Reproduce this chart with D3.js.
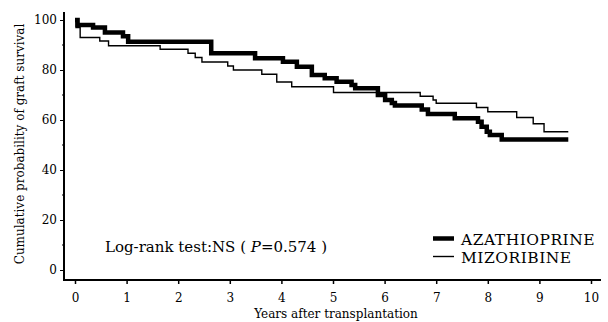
<!DOCTYPE html>
<html>
<head>
<meta charset="utf-8">
<script src="https://cdn.jsdelivr.net/npm/d3@7"></script>
<style>
  body { margin: 0; background: #fff; }
  text { font-family: "DejaVu Serif", "Liberation Serif", serif; fill: #000; }
</style>
</head>
<body>
<svg id="chart" width="608" height="322"></svg>
<script>
// step points: [years, survival %]
var azaTimes = [0, 0.05, 0.35, 0.58, 0.93, 1.03, 2.64, 3.49, 4.03, 4.30, 4.59, 4.84, 5.07, 5.36, 5.43, 5.87, 6.01, 6.14, 6.20, 6.72, 6.84, 7.36, 7.81, 7.88, 7.98, 8.04, 8.27, 9.56];
var azaSurv  = [100, 98, 97, 95, 93.5, 91.3, 86.7, 84.7, 83.3, 81.3, 78, 76.7, 75.3, 74, 72.7, 70, 68, 66.8, 65.8, 64.2, 62.4, 60.7, 59.3, 57.3, 55.3, 54, 52.2, 52.2];
var mizTimes = [0, 0.02, 0.10, 0.48, 0.65, 1.65, 2.19, 2.33, 2.46, 2.96, 3.07, 3.62, 3.91, 4.20, 5.01, 6.69, 6.94, 7.00, 7.78, 8.00, 8.56, 8.88, 9.09, 9.56];
var mizSurv  = [100, 97, 93, 91.6, 89.7, 88.3, 86.7, 85, 83.2, 81.6, 80, 78.3, 75.2, 73.3, 71, 69.5, 68, 66.7, 65, 63.3, 61, 58.5, 55.3, 55.3];
var xTicks = [0, 1, 2, 3, 4, 5, 6, 7, 8, 9, 10];
var yTicks = [0, 20, 40, 60, 80, 100];
var yMinor = [10, 30, 50, 70, 90];
var seriesNames = ["AZATHIOPRINE", "MIZORIBINE"];

var svg = d3.select('#chart');
var x = d3.scaleLinear().domain([0, 10]).range([75, 591]);
var y = d3.scaleLinear().domain([0, 100]).range([270, 20]);

var line = d3.line()
  .x(function(d) { return x(d[0]); })
  .y(function(d) { return y(d[1]); })
  .curve(d3.curveStepAfter);

var aza = d3.zip(azaTimes, azaSurv);
var miz = d3.zip(mizTimes, mizSurv);

// axis frame
var axisG = svg.append('g');
axisG.append('line').attr('x1', 64).attr('x2', 64).attr('y1', 12).attr('y2', 280)
  .attr('stroke', '#000').attr('stroke-width', 2);
axisG.append('line').attr('x1', 63).attr('x2', 601).attr('y1', 280).attr('y2', 280)
  .attr('stroke', '#000').attr('stroke-width', 2);

var yAxis = d3.axisLeft(y).tickValues(yTicks).tickSize(4).tickPadding(3);
var yg = svg.append('g').attr('transform', 'translate(64,0)').call(yAxis);
yg.select('.domain').remove();
yg.selectAll('text').style('font-size', '12px').style('font-family', '"DejaVu Serif", serif');
svg.append('g').selectAll('line').data(yMinor).enter().append('line')
  .attr('x1', 62).attr('x2', 64)
  .attr('y1', function(d) { return y(d); }).attr('y2', function(d) { return y(d); })
  .attr('stroke', '#000');

var xAxis = d3.axisBottom(x).tickValues(xTicks).tickSize(4).tickPadding(9);
var xg = svg.append('g').attr('transform', 'translate(0,280)').call(xAxis);
xg.select('.domain').remove();
xg.selectAll('line').attr('stroke-width', 1.5);
xg.selectAll('text').style('font-size', '12px').style('font-family', '"DejaVu Serif", serif');

svg.append('path').datum(miz).attr('d', line)
  .attr('fill', 'none').attr('stroke', '#000').attr('stroke-width', 1.4);
svg.append('path').datum(aza).attr('d', line)
  .attr('fill', 'none').attr('stroke', '#000').attr('stroke-width', 4.5);

// titles
svg.append('text').attr('x', 336).attr('y', 318).attr('text-anchor', 'middle')
  .style('font-size', '12px').text('Years after transplantation');
svg.append('text').attr('transform', 'translate(24,144) rotate(-90)').attr('text-anchor', 'middle')
  .style('font-size', '12px').text('Cumulative probability of graft survival');

var lr = svg.append('text').attr('x', 105).attr('y', 252).style('font-size', '15px');
lr.append('tspan').text('Log-rank test:NS ( ');
lr.append('tspan').style('font-style', 'italic').text('P');
lr.append('tspan').text('=0.574 )');

// legend
var leg = svg.append('g').selectAll('g').data(seriesNames).enter().append('g')
  .attr('transform', function(d, i) { return 'translate(433,' + (238.5 + i * 18) + ')'; });
leg.append('line').attr('x1', 0).attr('x2', 21).attr('y1', 0).attr('y2', 0)
  .attr('stroke', '#000').attr('stroke-width', function(d, i) { return i === 0 ? 4.5 : 1.4; });
leg.append('text').attr('x', 28).attr('y', 6).style('font-size', '15.5px')
  .style('letter-spacing', '0.5px').text(function(d) { return d; });
</script>
</body>
</html>
